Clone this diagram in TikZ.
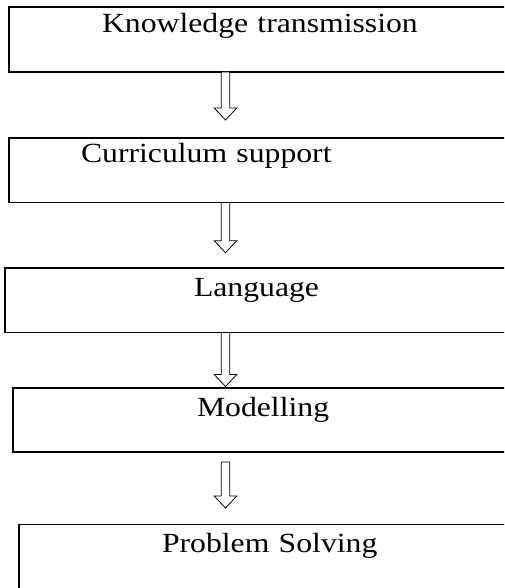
\documentclass[tikz,border=0pt]{standalone}
\usepackage{fontspec}
\setmainfont{Liberation Serif}[FakeStretch=1.145]
\usetikzlibrary{positioning,calc}

\tikzset{
  stage/.style={draw, line width=1.5, rectangle, anchor=north west, outer sep=0, inner ysep=0,
    text width=520pt, align=left, font=\fontsize{27.7}{32}\selectfont},
  flow/.style={line width=0.8, line join=miter, fill=white}
}
% hollow down arrow: #1 top of shaft, #2 tip
\newcommand{\hollowdown}[2]{%
  \draw[flow] ($(#1)+(-4.3,0)$) -- ($(#2)+(-4.3,12)$) -- ($(#2)+(-11.3,12)$) -- (#2)
    -- ($(#2)+(11.3,12)$) -- ($(#2)+(4.3,12)$) -- ($(#1)+(4.3,0)$) -- cycle;}

\begin{document}
\begin{tikzpicture}[x=1pt,y=1pt]
\useasboundingbox (0,0) rectangle (504,-588);
\clip (0,0) rectangle (504,-588);

\node[stage, inner xsep=93pt, text height=26pt, text depth=39pt] (know) at (9,-7) {Knowledge transmission};
\node[stage, inner xsep=72pt, text height=24pt, text depth=40.5pt] (curr) at (9,-138) {Curriculum support};
\node[stage, inner xsep=189pt, text height=28pt, text depth=36.5pt] (lang) at (5,-268) {Language};
\node[stage, inner xsep=184pt, text height=28pt, text depth=36pt] (model) at (13,-388) {Modelling};
\node[stage, inner xsep=143pt, text height=28pt, text depth=70pt] (solve) at (19,-524.5) {Problem Solving};

\coordinate (axis) at (225.5,0);
\coordinate (s1) at (know.south -| axis);
\coordinate (t1) at ($(curr.north -| axis)+(0,18)$);
\coordinate (s2) at (curr.south -| axis);
\coordinate (t2) at ($(lang.north -| axis)+(0,15.3)$);
\coordinate (s3) at (lang.south -| axis);
\coordinate (t3) at ($(model.north -| axis)+(0,1.5)$);
\coordinate (s4) at ($(model.south -| axis)+(0,-10)$);
\coordinate (t4) at ($(solve.north -| axis)+(0,16.5)$);

\hollowdown{s1}{t1}
\hollowdown{s2}{t2}
\hollowdown{s3}{t3}
\hollowdown{s4}{t4}
\end{tikzpicture}
\end{document}
